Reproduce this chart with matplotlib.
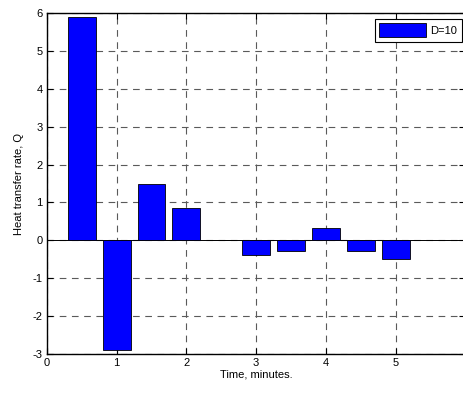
import numpy as np
import matplotlib.pyplot as plt
from matplotlib.patches import Patch

plt.rcParams['font.family'] = ['Liberation Sans', 'DejaVu Sans']
plt.rcParams['font.size'] = 8
plt.rcParams['axes.unicode_minus'] = False

# heat transfer rate at each half-minute step
time_min = [0.5, 1.0, 1.5, 2.0, 2.5, 3.0, 3.5, 4.0, 4.5, 5.0]
heat_q = [5.9, -2.9, 1.48, 0.85, 0.01, -0.4, -0.29, 0.33, -0.29, -0.5]
x_ticks = [0, 1, 2, 3, 4, 5, 6]
y_ticks = [-3, -2, -1, 0, 1, 2, 3, 4, 5, 6]

fig = plt.figure(figsize=(4.64, 3.94), dpi=100)
ax = fig.add_axes([0.101, 0.1015, 0.902, 0.8655])

ax.bar(time_min, heat_q, width=0.4, color='#0000ff', edgecolor='black',
       linewidth=0.6, zorder=3)
ax.axhline(0, color='black', linewidth=0.7, zorder=2)

ax.set_xlim(0, 6)
ax.set_ylim(-3, 6)
ax.set_xticks(x_ticks)
ax.set_yticks(y_ticks)
ax.grid(True, linestyle=(0, (6, 5)), color='#5a5a5a', linewidth=0.8, zorder=0)
ax.tick_params(direction='in', length=4, width=0.8, top=True, right=True,
               labelsize=8, pad=3)
for s in ax.spines.values():
    s.set_linewidth(1.0)

ax.set_xlabel('Time, minutes.', fontsize=8, labelpad=1)
ax.set_ylabel('Heat transfer rate, Q', fontsize=8, labelpad=6)

handle = Patch(facecolor='#0000ff', edgecolor='black', linewidth=0.6)
leg = ax.legend([handle], ['D=10'], loc='upper right', fontsize=8,
                fancybox=False, framealpha=1, edgecolor='black',
                handlelength=4.2, handleheight=1.6, borderpad=0.4,
                handletextpad=0.4, borderaxespad=0.2,
                bbox_to_anchor=(0.997, 0.99))
leg.get_frame().set_linewidth(0.8)

fig.savefig('out.png', dpi=100)
